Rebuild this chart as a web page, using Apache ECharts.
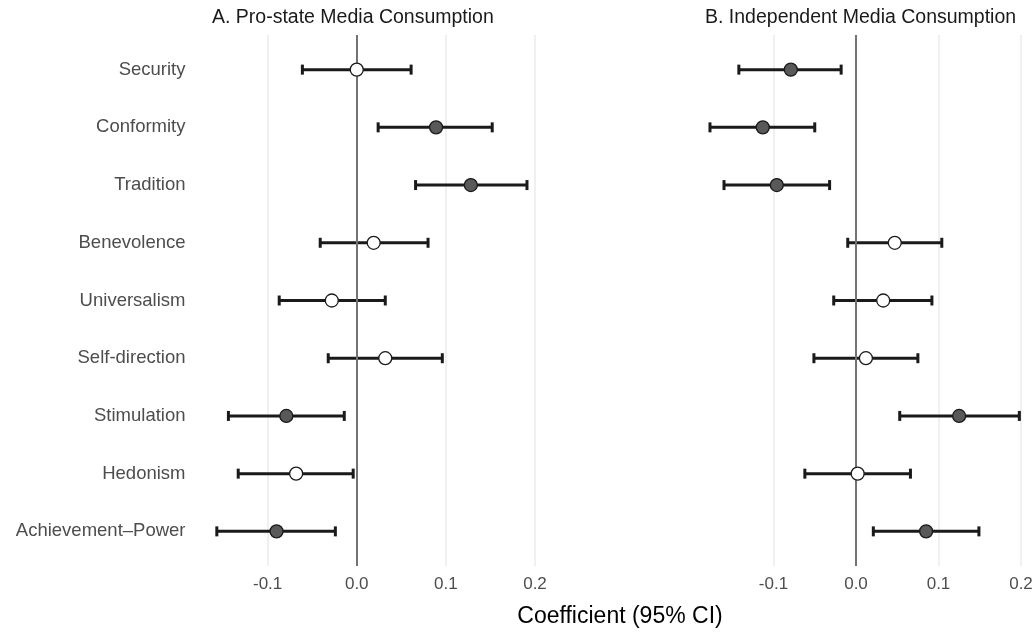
<!DOCTYPE html>
<html>
<head>
<meta charset="utf-8">
<script src="https://cdn.jsdelivr.net/npm/echarts@6/dist/echarts.min.js"></script>
<style>
  html, body { margin: 0; padding: 0; background: #fff; }
  #main { width: 1036px; height: 632px; }
</style>
</head>
<body>
<div id="main"></div>
<script>
// value categories, top to bottom
const categories = ['Security', 'Conformity', 'Tradition', 'Benevolence', 'Universalism',
  'Self-direction', 'Stimulation', 'Hedonism', 'Achievement–Power'];

// A. pro-state media
const stateEst = [0.000, 0.089, 0.128, 0.019, -0.028, 0.032, -0.079, -0.068, -0.090];
const stateLo  = [-0.061, 0.024, 0.066, -0.041, -0.087, -0.032, -0.144, -0.133, -0.157];
const stateHi  = [0.061, 0.152, 0.191, 0.080, 0.032, 0.096, -0.014, -0.004, -0.024];
const stateSig = [false, true, true, false, false, false, true, false, true];

// B. independent media
const indepEst = [-0.079, -0.113, -0.096, 0.047, 0.033, 0.012, 0.125, 0.002, 0.085];
const indepLo  = [-0.142, -0.177, -0.160, -0.010, -0.027, -0.051, 0.053, -0.062, 0.021];
const indepHi  = [-0.018, -0.050, -0.032, 0.104, 0.092, 0.075, 0.198, 0.066, 0.149];
const indepSig = [true, true, true, false, false, false, true, false, true];

const FONT = 'Liberation Sans, Arial, sans-serif';

const chart = echarts.init(document.getElementById('main'));

function errBars(lo, hi) {
  return lo.map((v, i) => [v, hi[i], i + 1]);
}
function points(est, sig) {
  return est.map((v, i) => ({
    value: [v, i + 1],
    itemStyle: { color: sig[i] ? '#595959' : '#ffffff' }
  }));
}

const renderBar = function (params, api) {
  const a = api.coord([api.value(0), api.value(2)]);
  const b = api.coord([api.value(1), api.value(2)]);
  const h = 5;
  const st = { stroke: '#1a1a1a', lineWidth: 3 };
  return {
    type: 'group',
    children: [
      { type: 'line', shape: { x1: a[0], y1: a[1], x2: b[0], y2: b[1] }, style: st },
      { type: 'line', shape: { x1: a[0], y1: a[1] - h, x2: a[0], y2: a[1] + h }, style: st },
      { type: 'line', shape: { x1: b[0], y1: b[1] - h, x2: b[0], y2: b[1] + h }, style: st }
    ]
  };
};

const zeroLine = {
  silent: true,
  symbol: 'none',
  label: { show: false },
  lineStyle: { color: '#737373', width: 2, type: 'solid' },
  data: [{ xAxis: 0 }]
};

function xAxisFor(idx) {
  return {
    type: 'value', gridIndex: idx, min: -0.2, max: 0.2, interval: 0.1,
    axisLine: { show: false }, axisTick: { show: false },
    axisLabel: {
      showMinLabel: false, margin: 10, color: '#4d4d4d', fontSize: 17,
      fontFamily: FONT,
      formatter: v => v.toFixed(1)
    },
    splitLine: { show: true, showMinLine: false, lineStyle: { color: '#ebebeb', width: 1.5 } }
  };
}
function yAxisFor(idx, labels) {
  return {
    type: 'value', gridIndex: idx, min: 0.4, max: 9.6, inverse: true,
    offset: -15,
    axisLine: { show: false }, axisTick: { show: false },
    splitLine: { show: false },
    axisLabel: {
      show: labels, customValues: [1, 2, 3, 4, 5, 6, 7, 8, 9], margin: 8,
      color: '#4d4d4d', fontSize: 18.5, fontFamily: FONT,
      formatter: v => categories[Math.round(v) - 1] || ''
    }
  };
}

const option = {
  animation: false,
  backgroundColor: '#ffffff',
  grid: [
    { left: 178.5, right: 501, top: 35, bottom: 66 },
    { left: 691, right: 15, top: 35, bottom: 66 }
  ],
  xAxis: [xAxisFor(0), xAxisFor(1)],
  yAxis: [yAxisFor(0, true), yAxisFor(1, false)],
  graphic: [
    { type: 'text', x: 212, y: 18, style: { text: 'A. Pro-state Media Consumption',
      fill: '#1a1a1a', fontSize: 19.5, fontFamily: FONT, verticalAlign: 'middle' } },
    { type: 'text', x: 705, y: 18, style: { text: 'B. Independent Media Consumption',
      fill: '#1a1a1a', fontSize: 19.5, fontFamily: FONT, verticalAlign: 'middle' } },
    { type: 'text', x: 620, y: 617, style: { text: 'Coefficient (95% CI)',
      fill: '#000000', fontSize: 23, fontFamily: FONT, align: 'center', verticalAlign: 'middle' } }
  ],
  series: [
    { type: 'custom', xAxisIndex: 0, yAxisIndex: 0, renderItem: renderBar,
      data: errBars(stateLo, stateHi), markLine: zeroLine, z: 3 },
    { type: 'scatter', xAxisIndex: 0, yAxisIndex: 0, symbolSize: 13, z: 5,
      itemStyle: { borderColor: '#1a1a1a', borderWidth: 1.3, opacity: 1 },
      data: points(stateEst, stateSig) },
    { type: 'custom', xAxisIndex: 1, yAxisIndex: 1, renderItem: renderBar,
      data: errBars(indepLo, indepHi), markLine: zeroLine, z: 3 },
    { type: 'scatter', xAxisIndex: 1, yAxisIndex: 1, symbolSize: 13, z: 5,
      itemStyle: { borderColor: '#1a1a1a', borderWidth: 1.3, opacity: 1 },
      data: points(indepEst, indepSig) }
  ]
};

chart.setOption(option);
</script>
</body>
</html>
